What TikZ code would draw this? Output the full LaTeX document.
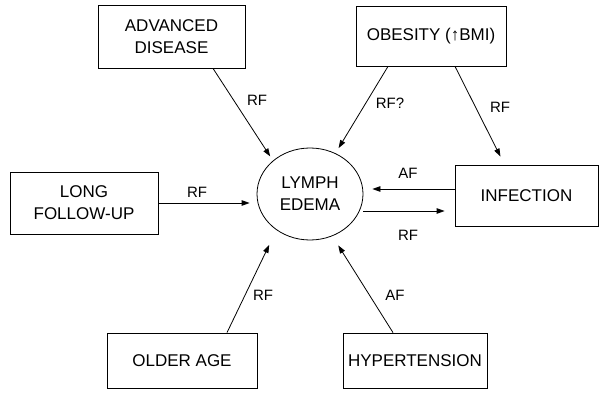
\documentclass[tikz,border=0pt]{standalone}
\usepackage{fontspec}
\setmainfont{Liberation Sans}
\usetikzlibrary{calc,arrows.meta,shapes.geometric}
\begin{document}
\begin{tikzpicture}[x=1pt,y=-1pt,
    box/.style={draw,line width=0.8pt,inner sep=0pt,align=center,
      font=\fontsize{17}{22}\selectfont},
    lbl/.style={inner sep=0pt,font=\fontsize{15}{18}\selectfont},
    arr/.style={line width=0.8pt,-{Triangle[length=8pt,width=5.5pt]}}]
  \useasboundingbox (0,0) rectangle (601,395);
  % factors
  \node[box,minimum width=147,minimum height=63] (adv) at (171.5,36.5) {ADVANCED\\DISEASE};
  \node[box,minimum width=150,minimum height=60] (obes) at (431,36) {OBESITY (↑BMI)};
  \node[box,minimum width=148,minimum height=62] (longfu) at (84,203) {LONG\\FOLLOW-UP};
  \node[box,minimum width=143,minimum height=61] (infec) at (526.5,195.5) {INFECTION};
  \node[box,minimum width=150,minimum height=55] (older) at (182,360.5) {OLDER AGE};
  \node[box,minimum width=144,minimum height=55] (hyper) at (415,360.5) {HYPERTENSION};
  \node[box,ellipse,minimum width=106,minimum height=92] (lymph) at (310,194) {LYMPH\\EDEMA};
  % factor labels
  \node[lbl] (rfadv) at (257,100) {RF};
  \node[lbl] (rfobes) at (390,103) {RF?};
  \node[lbl] (rfinf) at (500,107) {RF};
  \node[lbl] (afinf) at (408,173) {AF};
  \node[lbl] (rfout) at (408,235) {RF};
  \node[lbl] (rflong) at (197,192) {RF};
  \node[lbl] (rfold) at (263,295) {RF};
  \node[lbl] (afhyp) at (395,295) {AF};
  \coordinate (afin) at ($(infec.west)+(0,-6.5)$);
  \coordinate (rfin) at ($(infec.west)+(0,15.5)$);
  \begin{scope}[arr]
    \draw[shorten >=5] ($(adv.south)+(41.5,0)$) to (lymph.138.8);
    \draw[shorten >=6] ($(obes.south)+(-43,0)$) to (lymph.58.7);
    \draw[shorten >=9] ($(obes.south)+(24,0)$) to ($(infec.north)+(-22,0)$);
    \draw[shorten >=9] (afin) to (afin -| lymph.east);
    \draw[shorten >=10] (rfin -| lymph.east) to (rfin);
    \draw[shorten >=7] (longfu.east) to (longfu.east -| lymph.west);
    \draw[shorten >=16.5] ($(older.north)+(45,0)$) to (lymph.227.7);
    \draw[shorten >=11] ($(hyper.north)+(-22,0)$) to (lymph.298);
  \end{scope}
\end{tikzpicture}
\end{document}
